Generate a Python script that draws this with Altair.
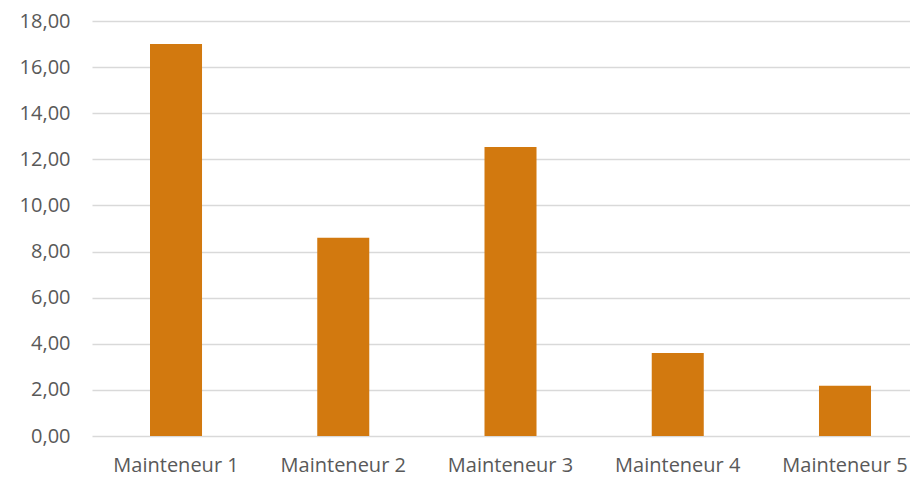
import altair as alt
import pandas as pd

categories = ["Mainteneur 1", "Mainteneur 2", "Mainteneur 3", "Mainteneur 4", "Mainteneur 5"]
values = [17.0, 8.6, 12.53, 3.6, 2.18]

df = pd.DataFrame({"cat": categories, "val": values})

chart = alt.Chart(df).mark_bar(color="#D2790F").encode(
    x=alt.X("cat:N", sort=categories, title=None,
            scale=alt.Scale(paddingInner=0.689, paddingOuter=0.29, align=0.598),
            axis=alt.Axis(labelAngle=0, ticks=False, domain=False, grid=False,
                          labelFont="Open Sans", labelFontSize=20, labelColor="#595959",
                          labelPadding=19)),
    y=alt.Y("val:Q", title=None,
            scale=alt.Scale(domain=[0, 18], nice=False),
            axis=alt.Axis(values=[0, 2, 4, 6, 8, 10, 12, 14, 16, 18],
                          labelExpr="replace(format(datum.value, '.2f'), '.', ',')",
                          ticks=False, domain=False, gridColor="#D9D9D9", gridWidth=1.5,
                          labelFont="Open Sans", labelFontSize=20, labelColor="#595959",
                          labelPadding=22)),
).properties(
    width=818, height=415,
    autosize=alt.AutoSizeParams(type="none"),
    padding={"left": 84, "top": 13, "right": 0, "bottom": 41},
).configure_view(stroke=None)

chart.save("out.html", embed_options={"renderer": "svg", "actions": False})
